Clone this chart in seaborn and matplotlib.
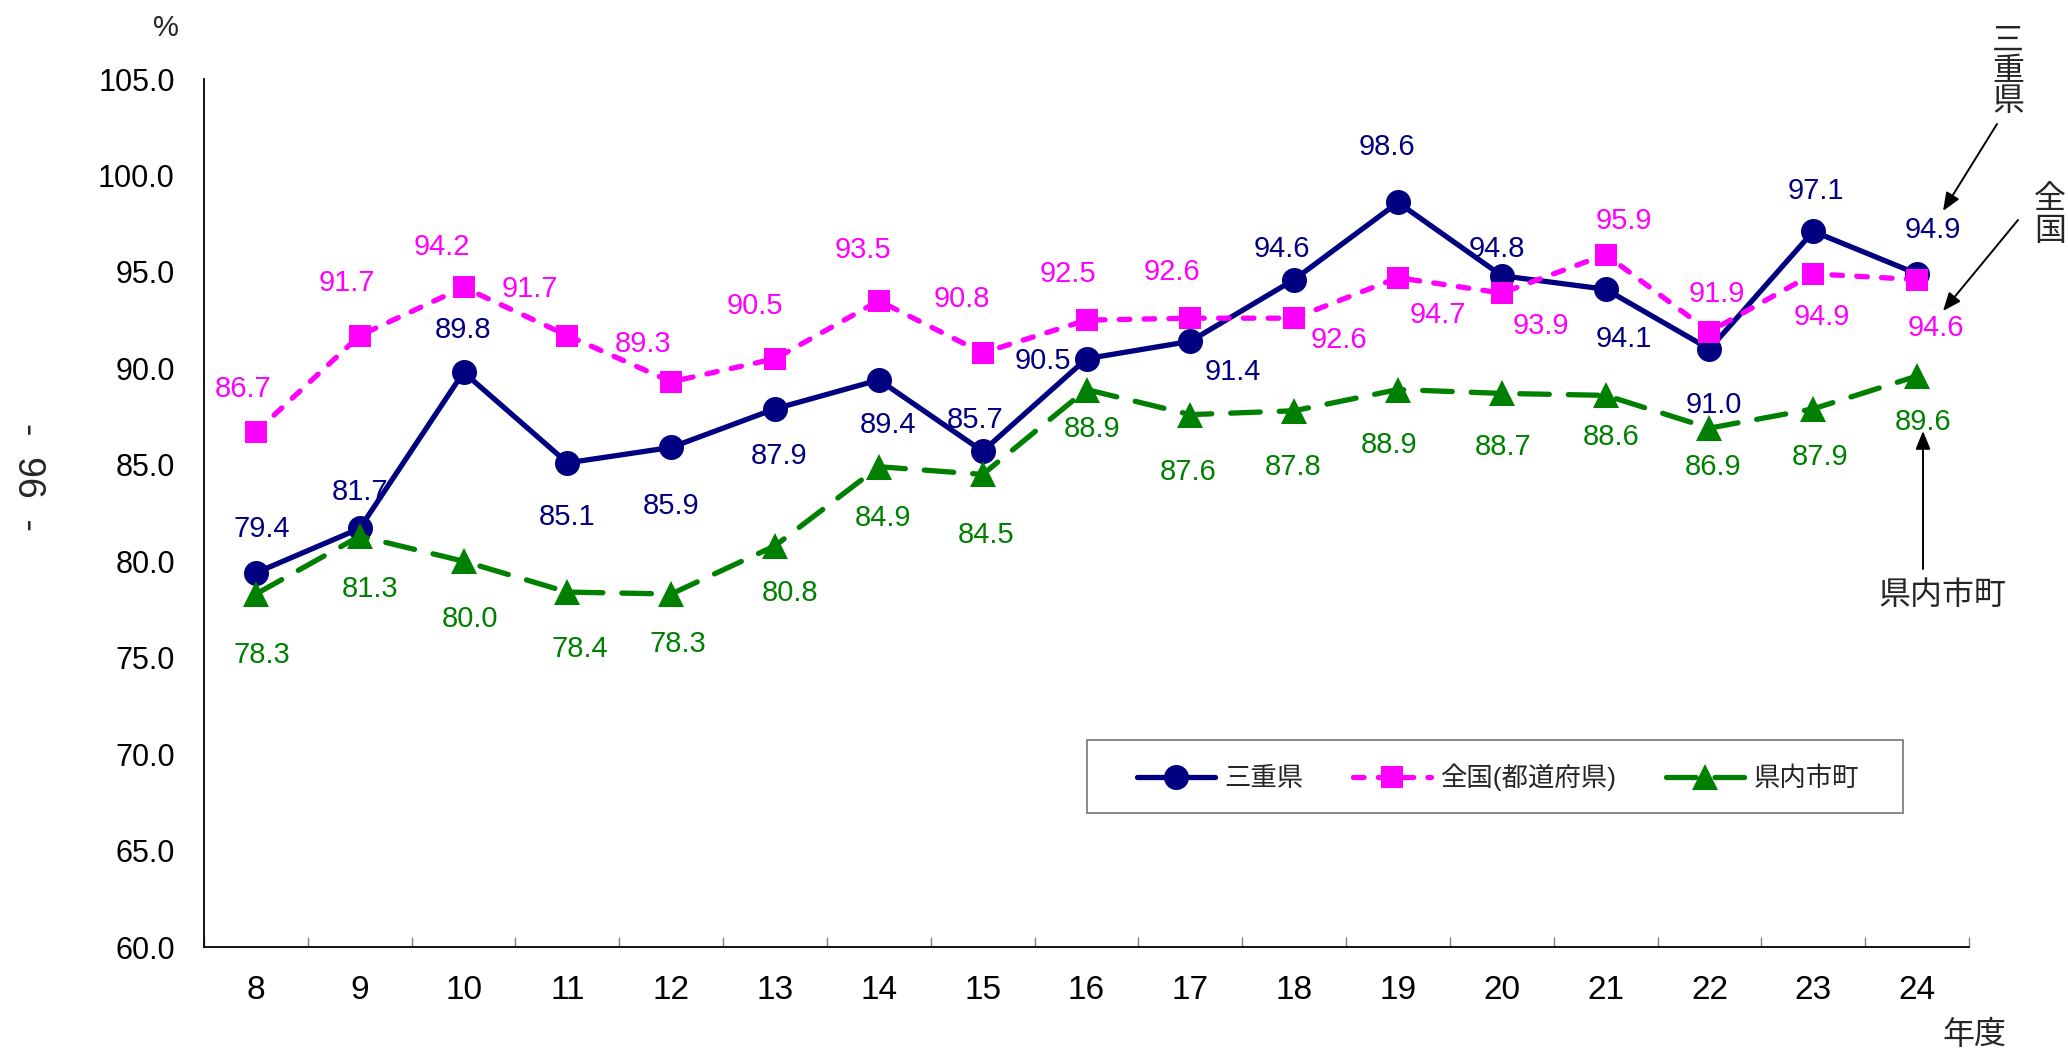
import numpy as np
import matplotlib
matplotlib.use("Agg")
import matplotlib.pyplot as plt
import seaborn as sns
from matplotlib.lines import Line2D
from matplotlib.patches import Rectangle

# ---- data -------------------------------------------------------------
years = ["8", "9", "10", "11", "12", "13", "14", "15", "16",
         "17", "18", "19", "20", "21", "22", "23", "24"]

mie = [79.4, 81.7, 89.8, 85.1, 85.9, 87.9, 89.4, 85.7, 90.5,
       91.4, 94.6, 98.6, 94.8, 94.1, 91.0, 97.1, 94.9]
national = [86.7, 91.7, 94.2, 91.7, 89.3, 90.5, 93.5, 90.8, 92.5,
            92.6, 92.6, 94.7, 93.9, 95.9, 91.9, 94.9, 94.6]
municipal = [78.3, 81.3, 80.0, 78.4, 78.3, 80.8, 84.9, 84.5, 88.9,
             87.6, 87.8, 88.9, 88.7, 88.6, 86.9, 87.9, 89.6]

series_names = ["三重県", "全国(都道府県)", "県内市町"]

# ---- label placement (pixel offsets: right, down) ---------------------
mie_offsets = [(6, -46), (0, -38), (0, -44), (0, 52), (0, 57), (4, 45),
               (9, 43), (-8, -33), (-44, 0), (42, 29), (-12, -33),
               (-11, -57), (-5, -29), (18, 48), (4, 54), (3, -42), (16, -46)]
national_offsets = [(-13, -45), (-13, -55), (-22, -42), (-38, -49),
                    (-28, -40), (-20, -55), (-16, -53), (-21, -56),
                    (-19, -48), (-18, -48), (45, 20), (40, 35), (39, 31),
                    (18, -36), (7, -40), (9, 41), (19, 46)]
municipal_offsets = [(6, 59), (10, 51), (6, 56), (12, 55), (7, 48),
                     (15, 45), (4, 49), (3, 59), (6, 37), (-2, 55),
                     (-1, 54), (-9, 53), (1, 52), (6, 40), (4, 37),
                     (7, 46), (6, 44)]

NAVY = "#000080"
MAGENTA = "#FF00FF"
GREEN = "#008000"
W, H = 2068, 1050

sns.set_theme(style="white")
plt.rcParams["font.family"] = ["Liberation Sans", "Noto Sans CJK JP"]
plt.rcParams["axes.unicode_minus"] = False

fig = plt.figure(figsize=(W / 100, H / 100), dpi=100)
ax = fig.add_axes([204 / W, 103 / H, 1765 / W, 868 / H])

x = np.arange(len(years))

styles = [
    dict(color=NAVY, marker="o", markersize=18, linestyle="-"),
    dict(color=MAGENTA, marker="s", markersize=16,
         linestyle=(0, (2.0, 2.7)), dash_capstyle="round"),
    dict(color=GREEN, marker="^", markersize=19,
         linestyle=(0, (5.6, 3.6)), dash_capstyle="round"),
]
all_values = [mie, national, municipal]
all_offsets = [mie_offsets, national_offsets, municipal_offsets]

for vals, st in zip(all_values, styles):
    sns.lineplot(x=x, y=vals, ax=ax, linewidth=3.8, legend=False,
                 markeredgecolor=st["color"], markeredgewidth=0, **st)

for vals, offs, st in zip(all_values, all_offsets, styles):
    for xi, v, (dx, dy) in zip(x, vals, offs):
        ax.annotate(f"{v:.1f}", (xi, v), xytext=(dx, -dy - 2),
                    textcoords="offset pixels", ha="center", va="center",
                    fontsize=21, color=st["color"], annotation_clip=False)

# ---- axes -------------------------------------------------------------
ax.set_xlim(-0.5, len(years) - 0.5)
ax.set_ylim(60, 105)
yt = np.arange(60, 105.1, 5)
ax.set_yticks(yt)
ax.set_yticklabels([f"{t:.1f}" for t in yt])
ax.set_xticks(x)
ax.set_xticklabels(years)
ax.set_xticks(np.arange(-0.5, len(years), 1), minor=True)
ax.set_xlabel("")
ax.set_ylabel("")

for s in ["top", "right"]:
    ax.spines[s].set_visible(False)
for s in ["left", "bottom"]:
    ax.spines[s].set_color("black")
    ax.spines[s].set_linewidth(1.3)

ax.tick_params(axis="y", direction="in", length=7, width=1,
               color="#808080", labelsize=22, pad=21, labelcolor="black")
ax.tick_params(axis="x", which="major", length=0, labelsize=24, pad=20,
               labelcolor="black")
ax.tick_params(axis="x", which="minor", direction="in", length=7, width=1,
               color="#808080", bottom=True)
ax.grid(False)

# ---- legend -----------------------------------------------------------
handles = [Line2D([], [], linewidth=3.8, markeredgewidth=0, **st)
           for st in styles]
leg = ax.legend(handles, series_names, loc="center", ncol=3,
                bbox_to_anchor=(1498 / W, 1 - 777 / H),
                bbox_transform=fig.transFigure, frameon=False,
                fontsize=19, handlelength=2.95, handletextpad=0.34,
                columnspacing=1.9, numpoints=1)
fig.add_artist(Rectangle((1087 / W, 1 - 813 / H), 816 / W, 73 / H,
                         transform=fig.transFigure, fill=False,
                         edgecolor="#808080", linewidth=1.3))

# ---- surrounding text -------------------------------------------------
fig.text(166 / W, 1 - 28 / H, "%", ha="center", va="center", fontsize=21)
fig.text(1974 / W, 1 - 1036 / H, "年度", ha="center", va="center",
         fontsize=23)
fig.text(28 / W, 1 - 477 / H, "-  96  -", ha="center", va="center",
         fontsize=27, rotation=-90)

for ch, yy in zip("三重県", [42, 72, 102]):
    fig.text(2008 / W, 1 - yy / H, ch, ha="center", va="center",
             fontsize=23)
for ch, yy in zip("全国", [200, 232]):
    fig.text(2050 / W, 1 - yy / H, ch, ha="center", va="center",
             fontsize=23)
fig.text(1942 / W, 1 - 596 / H, "県内市町", ha="center", va="center",
         fontsize=23)

arrows = [((1997, 124), (1943, 211)),
          ((2018, 220), (1943, 311)),
          ((1923, 569), (1923, 431))]
for (sx, sy), (tx, ty) in arrows:
    ax.annotate("", xy=(tx, H - ty), xytext=(sx, H - sy),
                xycoords="figure pixels", textcoords="figure pixels",
                annotation_clip=False,
                arrowprops=dict(arrowstyle="-|>,head_length=1.1,head_width=0.45",
                                mutation_scale=10, color="black", lw=1.4,
                                shrinkA=0, shrinkB=0))

fig.savefig("out.png", dpi=100)
